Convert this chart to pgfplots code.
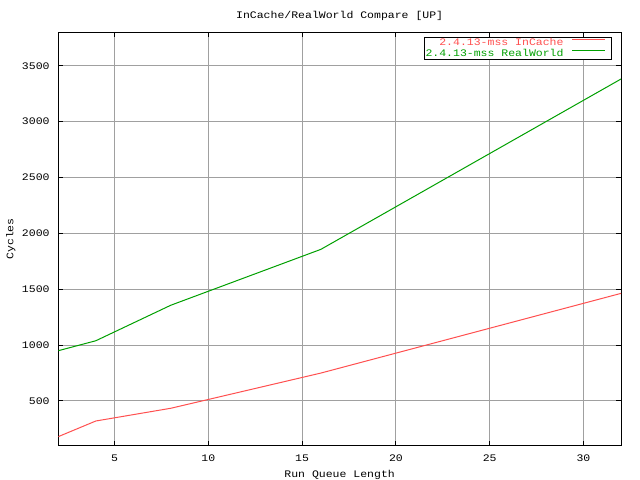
\documentclass[border=0pt]{standalone}
\usepackage{fontspec}
\setmainfont{Liberation Mono}[FakeStretch=1.15]
\usepackage{pgfplots}
\pgfplotsset{compat=1.18}
\definecolor{lnred}{RGB}{255,80,80}
\definecolor{lngreen}{RGB}{0,160,0}
\definecolor{ggrid}{RGB}{160,160,160}
\newcommand\gf{\fontsize{10bp}{12bp}\selectfont}
\pgfplotsset{myleg/.style={legend image code/.code={\path[draw=none,fill=none] (0bp,0bp) rectangle (47.6bp,0bp); \fill[draw=none, fill=#1] (8bp,3bp) rectangle (41bp,4bp);}}}
\begin{document}
\begin{tikzpicture}[x=1bp,y=1bp]
\useasboundingbox (0,0) rectangle (640,480);
\fill[white] (0,0) rectangle (640,480);
\begin{axis}[
  at={(58.3bp,34.3bp)}, anchor=south west,
  scale only axis, width=562.7bp, height=413.5bp,
  xmin=2, xmax=32, ymin=100, ymax=3800,
  xtick={5,10,...,30}, ytick={500,1000,...,3500},
  grid=major, major grid style={ggrid, line width=1bp},
  axis line style={black, line width=1bp},
  tick align=inside, major tick length=5bp, tick style={black, line width=1bp},
  /pgf/number format/assume math mode=true,
  /pgf/number format/set thousands separator={},
  tick label style={font=\gf},
  xticklabel style={anchor=north, inner sep=0pt, yshift=-8.6bp},
  yticklabel style={anchor=east, inner sep=0pt, xshift=-8.5bp},
  title={InCache/RealWorld Compare [UP]},
  title style={font=\gf, at={(axis description cs:0.5,1)}, anchor=base, inner sep=0pt, yshift=8bp},
  xlabel={Run Queue Length},
  xlabel style={font=\gf, at={(axis description cs:0.5,0)}, anchor=north, inner sep=0pt, yshift=-24.3bp},
  ylabel={Cycles},
  ylabel style={font=\gf, at={(axis description cs:-0.080,0.5)}, anchor=base, inner sep=0pt},
  legend style={at={(0.9846,0.9872)}, anchor=north east, draw=black, line width=1bp, fill=white, font=\gf,
    inner xsep=0.7bp, inner ysep=0bp, row sep=0bp,
    nodes={inner sep=0bp, text height=8bp, text depth=3bp}},
  legend plot pos=right, legend cell align=right,
]
\addplot[draw=lnred, line width=1bp, mark=none, myleg=lnred] coordinates {(2,181) (4,321) (8,435) (16,750) (32,1463)};
\addlegendentry{\textcolor{lnred}{2.4.13-mss InCache}}
\addplot[draw=lngreen, line width=1bp, mark=none, myleg=lngreen] coordinates {(2,950) (4,1039) (8,1357) (16,1857) (32,3381)};
\addlegendentry{\textcolor{lngreen}{2.4.13-mss RealWorld}}
\end{axis}
\end{tikzpicture}
\end{document}
